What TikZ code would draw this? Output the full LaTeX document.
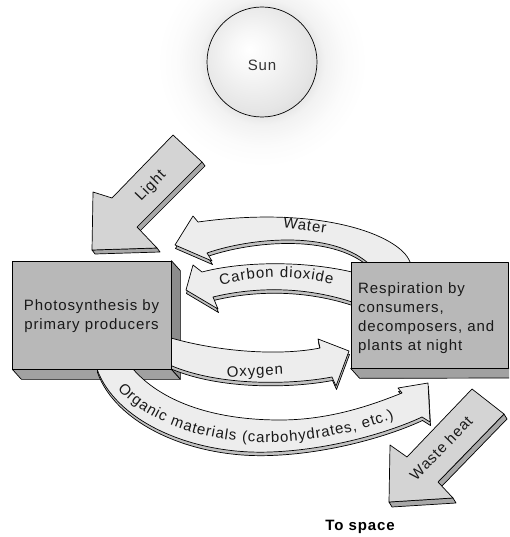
\documentclass[tikz,border=0pt]{standalone}
\usepackage{fontspec}
\setmainfont{Liberation Sans}
\newfontfamily\boxfont[LetterSpace=6]{Liberation Sans}
\newfontfamily\pathfont{Liberation Sans}
\usetikzlibrary{calc,decorations.text}

\definecolor{ink}{gray}{0.1}
\definecolor{boxfront}{gray}{0.72}
\definecolor{boxside}{gray}{0.55}
\definecolor{boxbottom}{gray}{0.63}
\definecolor{blockface}{gray}{0.83}
\definecolor{blockside}{gray}{0.66}
\definecolor{bandface}{gray}{0.93}
\definecolor{bandside}{gray}{0.76}
\definecolor{glowA}{gray}{0.90}
\definecolor{glowB}{gray}{0.95}
\definecolor{glowC}{gray}{0.985}
\definecolor{ballA}{gray}{0.97}
\definecolor{ballB}{gray}{0.90}
\definecolor{ballC}{gray}{0.83}

\pgfdeclarelayer{back}
\pgfdeclarelayer{mid}
\pgfsetlayers{back,mid,main}

% radial shadings: the path's radius corresponds to 25bp
\pgfdeclareradialshading{sunglow}{\pgfpoint{0bp}{0bp}}{color(0bp)=(glowA); color(12.5bp)=(glowA); color(15bp)=(glowB); color(20bp)=(glowC); color(25bp)=(white); color(50bp)=(white)}
\pgfdeclareradialshading{sunball}{\pgfpoint{-6bp}{6bp}}{color(0bp)=(white); color(9bp)=(ballA); color(25bp)=(ballB); color(36bp)=(ballC); color(50bp)=(ballC)}

\newcommand\pathlab{\pathfont\fontsize{15}{18}\selectfont\color{ink}\kern0.9pt}

% a flat curved ribbon arrow with a thin darker strip below it
\newcommand\bandshape[1]{%
  \filldraw[outline, fill=bandside, shift={(0.5,3.5)}] #1;
  \filldraw[outline, fill=bandface] #1;}

\tikzset{
  outline/.style={draw=black, line width=0.7pt, line join=round},
  boxnode/.style={outline, fill=boxfront, inner sep=0pt},
  lab/.style={font=\boxfont\fontsize{15}{19}\selectfont, text=ink, inner sep=0pt},
}

\begin{document}
\begin{tikzpicture}[x=1pt, y=-1pt]
\useasboundingbox (0,0) rectangle (509,537);

% boxes (front faces)
\node[boxnode, minimum width=158.3pt, minimum height=108pt] (photo) at (91.85,315) {};
\node[boxnode, minimum width=157.3pt, minimum height=106pt] (resp) at (429.65,315) {};
\node[circle, minimum size=110pt, inner sep=0pt] (sun) at (262,62) {};

\begin{pgfonlayer}{back}
  \begin{scope}
    \clip (0,0) rectangle (509,537);
    \fill[white] (0,0) rectangle (509,537);
    % sun with its soft halo
    \shade[shading=sunglow] (sun.center) circle[radius=105pt];
    \shade[shading=sunball] (sun.center) circle[radius=55pt];
    \draw[black, line width=0.7pt] (sun.center) circle[radius=55pt];

    % Light arrow
    \filldraw[outline, fill=blockside] (202,162) -- (205,166) -- (140,231) -- (137,227) -- cycle;
    \filldraw[outline, fill=blockside] (157,248) -- (160,252) -- (95,254) -- (92,250) -- cycle;
    \filldraw[outline, fill=blockface] (173,135) -- (202,162) -- (137,227) -- (157,248)
      -- (92,250) -- (93,192) -- (112,198) -- cycle;

    % depth faces of the boxes
    \filldraw[outline, fill=boxside] (photo.north east) -- ++(9,10)
      -- ($(photo.south east)+(9,10)$) -- (photo.south east) -- cycle;
    \filldraw[outline, fill=boxbottom] (photo.south west) -- (photo.south east)
      -- ++(9,10) -- ($(photo.south west)+(9,10)$) -- cycle;
    \filldraw[outline, fill=boxbottom] (resp.south west) -- (510,368) -- (510,378)
      -- ($(resp.south west)+(9,10)$) -- cycle;
  \end{scope}
\end{pgfonlayer}

\begin{pgfonlayer}{mid}
  % Water
  \bandshape{(412,268) -- (410,262) .. controls (400,235) and (320,205) .. (198,222)
    -- (193,216) -- (175,245) -- (212,261) -- (207,253)
    .. controls (250,238) and (330,230) .. (368,263) -- (371,268) -- cycle}
  % Carbon dioxide
  \bandshape{(358,274) -- (352,272) .. controls (300,260) and (240,262) .. (202,272)
    -- (193,265) -- (186,290) -- (218,309) -- (213,297)
    .. controls (250,288) and (300,285) .. (352,302) -- (358,303) -- cycle}
  % Oxygen
  \bandshape{(165,338) -- (171,338) .. controls (220,352) and (280,356) .. (320,348)
    -- (318,339) -- (349,351) -- (336,386) -- (332,377)
    .. controls (290,385) and (220,386) .. (172,366) -- (165,366) -- cycle}
  % Organic materials
  \bandshape{(97,363) -- (97,369) .. controls (115,420) and (190,455) .. (270,452)
    .. controls (330,450) and (390,432) .. (422,417)
    -- (430,422) -- (428,383) -- (398,388) -- (402,393)
    .. controls (372,405) and (330,420) .. (280,420)
    .. controls (210,420) and (160,400) .. (133,369) -- (133,363) -- cycle}
\end{pgfonlayer}

% Waste heat arrow
\filldraw[outline, fill=blockside] (504,414) -- (507,419) -- (441,487) -- (438,482) -- cycle;
\filldraw[outline, fill=blockside] (453,498) -- (456,503) -- (392,507) -- (389,502) -- cycle;
\filldraw[outline, fill=blockface] (472,389) -- (504,414) -- (438,482) -- (453,498)
  -- (389,502) -- (390,445) -- (407,457) -- cycle;

% labels
\node[lab, text=black!80] (suntxt) at (262,65) {Sun};
\node[lab, rotate=46] (lighttxt) at (151,186) {Light};
\node[lab, rotate=46] (wastetxt) at (441,448) {Waste heat};
\node[lab, rotate=-8] (watertxt) at (305,225) {Water};
\node[lab, rotate=3] (oxytxt) at (255,372) {Oxygen};
\node[lab, align=center] (phototxt) at (91.5,316) {Photosynthesis by\\primary producers};
\node[lab, align=left, anchor=west] (resptxt) at (358,318)
  {Respiration by\\consumers,\\decomposers, and\\plants at night};
\node[lab, font=\boxfont\bfseries\fontsize{15}{19}\selectfont, text=black] (spacetxt) at (360,527) {To space};

\path[decorate, decoration={text along path, text align=center,
  text={|\pathlab|Carbon dioxide}}]
  (200,292) .. controls (245,274) and (305,272) .. (352,291);
\path[decorate, decoration={text along path, text align=center,
  text={|\pathlab|Organic materials (carbohydrates, etc.)}}]
  (104,369) .. controls (125,414) and (196,444.5) .. (273,442.4)
  .. controls (330,441) and (384.6,423.9) .. (416,409.8);
\end{tikzpicture}
\end{document}
